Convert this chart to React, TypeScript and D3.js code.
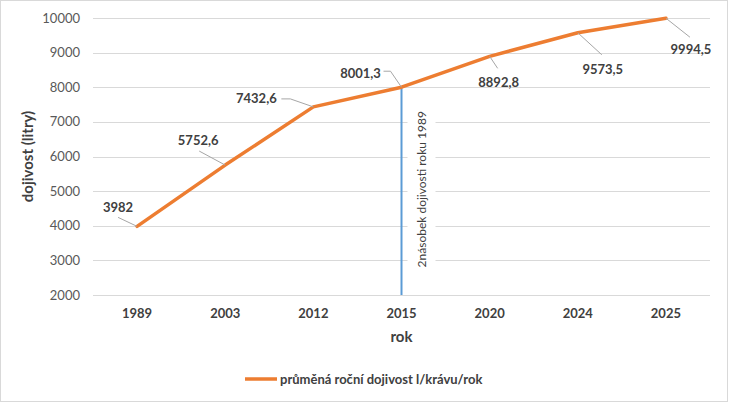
import * as d3 from 'd3';
import React, { useEffect, useRef } from 'react';

const years = ["1989", "2003", "2012", "2015", "2020", "2024", "2025"];
const yields = [3982, 5752.6, 7432.6, 8001.3, 8892.8, 9573.5, 9994.5];
const yTicks = [2000, 3000, 4000, 5000, 6000, 7000, 8000, 9000, 10000];
const markerYear = "2015";
const markerText = "2násobek dojivosti roku 1989";
const seriesName = "průměná roční dojivost l/krávu/rok";

// label placement relative to each point (px): label centre + leader path start/elbow
const labelLayout = [
  { dx: -19, dy: -19, leader: [[-19, -9]] },
  { dx: -27, dy: -25, leader: [[-26, -14]] },
  { dx: -57, dy: -8, leader: [[-32, -8], [-23, -8]] },
  { dx: -41, dy: -14, leader: [[-18, -16], [-11, -16]] },
  { dx: 9, dy: 26, leader: [[8, 12]] },
  { dx: 25, dy: 37, leader: [[24, 22]] },
  { dx: 25, dy: 31, leader: [[24, 19]] },
];

const FONT = "Lato, 'Open Sans', sans-serif";

const App: React.FC = () => {
  const svgRef = useRef<SVGSVGElement>(null);

  useEffect(() => {
    if (!svgRef.current) { return; }
    const svg = d3.select(svgRef.current);
    svg.selectAll("*").remove();

    const width = 730;
    const height = 403;
    const plot = { left: 93, right: 710, top: 18, bottom: 295 };

    // outer frame
    svg.append("rect")
      .attr("x", 0.5).attr("y", 0.5)
      .attr("width", width - 3).attr("height", height - 2)
      .attr("fill", "white")
      .attr("stroke", "#d9d9d9");

    const xScale = d3.scaleBand()
      .domain(years)
      .range([plot.left, plot.right]);

    const yScale = d3.scaleLinear()
      .domain([2000, 10000])
      .range([plot.bottom, plot.top]);

    const xc = (year: string) => xScale(year)! + xScale.bandwidth() / 2;

    // gridlines
    svg.append("g")
      .selectAll("line")
      .data(yTicks)
      .enter().append("line")
      .attr("x1", plot.left).attr("x2", plot.right)
      .attr("y1", tick => Math.round(yScale(tick)) + 0.5)
      .attr("y2", tick => Math.round(yScale(tick)) + 0.5)
      .attr("stroke", "#d9d9d9")
      .attr("stroke-width", 1);

    // y tick labels
    svg.append("g")
      .selectAll("text")
      .data(yTicks)
      .enter().append("text")
      .attr("x", 80)
      .attr("y", tick => yScale(tick))
      .attr("dy", "0.35em")
      .attr("text-anchor", "end")
      .style("font-family", FONT)
      .style("font-size", "13px")
      .style("fill", "#595959")
      .text(tick => `${tick}`);

    // x tick labels
    svg.append("g")
      .selectAll("text")
      .data(years)
      .enter().append("text")
      .attr("x", year => xc(year))
      .attr("y", 318)
      .attr("text-anchor", "middle")
      .style("font-family", FONT)
      .style("font-size", "13px")
      .style("font-weight", "bold")
      .style("fill", "#404040")
      .text(year => year);

    // axis titles
    svg.append("text")
      .attr("x", (plot.left + plot.right) / 2)
      .attr("y", 342)
      .attr("text-anchor", "middle")
      .style("font-family", FONT)
      .style("font-size", "15px")
      .style("font-weight", "bold")
      .style("fill", "#404040")
      .text("rok");

    svg.append("text")
      .attr("transform", `translate(33,${(plot.top + plot.bottom) / 2}) rotate(-90)`)
      .attr("text-anchor", "middle")
      .style("font-family", FONT)
      .style("font-size", "15px")
      .style("font-weight", "bold")
      .style("fill", "#404040")
      .text("dojivost (litry)");

    // marker line at 2015 with its label
    const markerIdx = years.indexOf(markerYear);
    const mx = xc(markerYear);
    const markerLabel = svg.append("g")
      .attr("transform", `translate(${mx + 20},${yScale(3000) + 7}) rotate(-90)`);
    markerLabel.append("rect")
      .attr("x", -4).attr("y", -14)
      .attr("width", 166).attr("height", 28)
      .attr("fill", "white");
    markerLabel.append("text")
      .attr("x", 0).attr("y", 0)
      .attr("dy", "0.35em")
      .style("font-family", FONT)
      .style("font-size", "12px")
      .style("fill", "#404040")
      .text(markerText);

    svg.append("line")
      .attr("x1", mx).attr("x2", mx)
      .attr("y1", yScale(yields[markerIdx]))
      .attr("y2", plot.bottom)
      .attr("stroke", "#5b9bd5")
      .attr("stroke-width", 2);

    // series line
    const line = d3.line<number>()
      .x((_, i) => xc(years[i]))
      .y(val => yScale(val));

    svg.append("path")
      .datum(yields)
      .attr("d", line)
      .attr("fill", "none")
      .attr("stroke", "#ed7d31")
      .attr("stroke-width", 3.5)
      .attr("stroke-linejoin", "round")
      .attr("stroke-linecap", "round");

    // data labels with leader lines
    const labels = svg.append("g");
    yields.forEach((val, i) => {
      const px = xc(years[i]);
      const py = yScale(val);
      const lay = labelLayout[i];
      const pts: [number, number][] = lay.leader.map(([ox, oy]) => [px + ox, py + oy]);
      pts.push([px, py]);
      labels.append("path")
        .attr("d", d3.line()(pts))
        .attr("fill", "none")
        .attr("stroke", "#a6a6a6")
        .attr("stroke-width", 1);
      labels.append("text")
        .attr("x", px + lay.dx)
        .attr("y", py + lay.dy)
        .attr("dy", "0.35em")
        .attr("text-anchor", "middle")
        .style("font-family", FONT)
        .style("font-size", "13px")
        .style("font-weight", "bold")
        .style("fill", "#404040")
        .text(String(val).replace(".", ","));
    });

    // legend
    const legend = svg.append("g").attr("transform", "translate(245,379)");
    legend.append("line")
      .attr("x1", 0).attr("x2", 32)
      .attr("y1", 0).attr("y2", 0)
      .attr("stroke", "#ed7d31")
      .attr("stroke-width", 3.5);
    legend.append("text")
      .attr("x", 35).attr("y", 0)
      .attr("dy", "0.35em")
      .style("font-family", FONT)
      .style("font-size", "13px")
      .style("font-weight", "bold")
      .style("fill", "#404040")
      .text(seriesName);
  }, []);

  return (
    <svg
      ref={svgRef}
      width={730}
      height={403}
      style={{ position: "absolute", left: 0, top: 0 }}
    />
  );
};

export default App;
